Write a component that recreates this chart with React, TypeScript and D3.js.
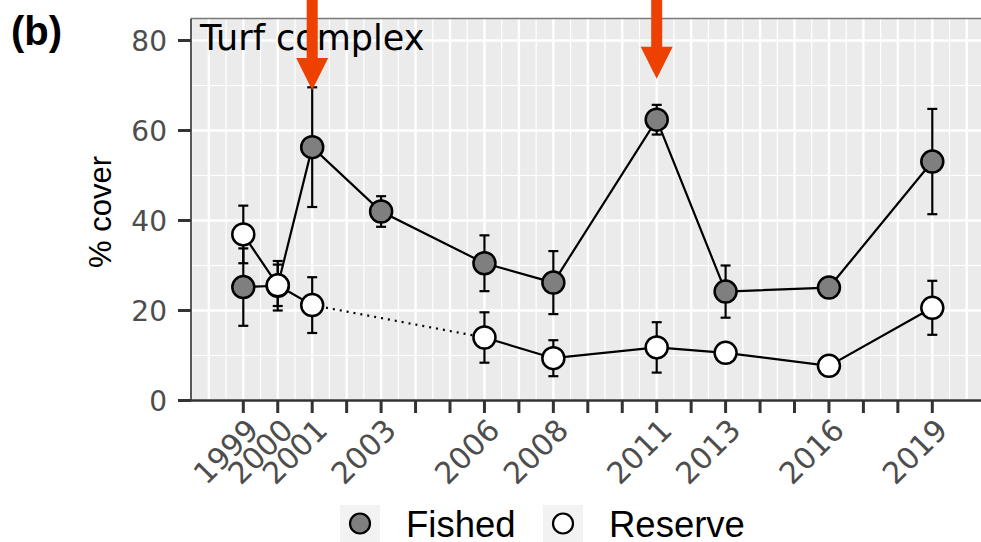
import React, { useEffect, useRef } from 'react';
import * as d3 from 'd3';

// survey years and % cover (mean +/- se)
const years = [1999, 2000, 2001, 2003, 2006, 2008, 2011, 2013, 2016, 2019];
const fishedMean = [25.2, 25.5, 56.3, 42.0, 30.5, 26.2, 62.4, 24.2, 25.1, 53.1];
const fishedSE = [8.6, 5.5, 13.3, 3.4, 6.2, 7.0, 3.3, 5.8, 2.0, 11.7];
const reserveMean = [36.9, 25.6, 21.2, null, 14.0, 9.4, 11.8, 10.6, 7.7, 20.6];
const reserveSE = [6.4, 4.6, 6.2, null, 5.6, 4.0, 5.6, 1.5, 1.0, 6.0];

const tickYears = d3.range(1999, 2020);
const yTicks = [0, 20, 40, 60, 80];
const arrowYears = [2001, 2011];
const arrowTips = [69, 71.5];
const seriesNames = ['Fished', 'Reserve'];
const seriesFill = ['#7f7f7f', '#ffffff'];

export default function App() {
  const ref = useRef<SVGSVGElement>(null);

  useEffect(() => {
    const svg = d3.select(ref.current);
    svg.selectAll('*').remove();

    const x = d3.scaleLinear().domain([1999, 2019]).range([243.3, 932.3]);
    const y = d3.scaleLinear().domain([0, 80]).range([400.5, 40.5]);
    const left = 191, right = 995, top = 18.5, bottom = 400.5;
    const tickFont = 'DejaVu Sans, Verdana, sans-serif';

    // panel
    svg.append('rect')
      .attr('x', left).attr('y', top)
      .attr('width', right - left).attr('height', bottom - top)
      .attr('fill', '#ebebeb');

    // grid
    svg.append('g').selectAll('line')
      .data(d3.range(0, 90, 10))
      .enter().append('line')
      .attr('x1', left).attr('x2', right)
      .attr('y1', d => y(d)).attr('y2', d => y(d))
      .attr('stroke', '#fff')
      .attr('stroke-width', d => d % 20 === 0 ? 2.4 : 1.2);

    const xLo = x.invert(left), xHi = x.invert(right);
    svg.append('g').selectAll('line')
      .data(d3.range(1997.5, 2021, 0.5).filter(d => d > xLo && d < xHi))
      .enter().append('line')
      .attr('x1', d => x(d)).attr('x2', d => x(d))
      .attr('y1', top).attr('y2', bottom)
      .attr('stroke', '#fff')
      .attr('stroke-width', d => d % 1 === 0 ? 2.4 : 1.2);

    // borders / axis lines
    svg.append('line').attr('x1', left).attr('x2', right).attr('y1', top).attr('y2', top)
      .attr('stroke', '#7a7a7a').attr('stroke-width', 1.5);
    svg.append('line').attr('x1', left).attr('x2', left).attr('y1', top).attr('y2', bottom)
      .attr('stroke', '#5a5a5a').attr('stroke-width', 2);
    svg.append('line').attr('x1', left - 1).attr('x2', right).attr('y1', bottom).attr('y2', bottom)
      .attr('stroke', '#333').attr('stroke-width', 2.5);

    // y axis
    const gy = svg.append('g');
    gy.selectAll('line').data(yTicks).enter().append('line')
      .attr('x1', 178).attr('x2', left)
      .attr('y1', d => y(d)).attr('y2', d => y(d))
      .attr('stroke', '#333').attr('stroke-width', 3);
    gy.selectAll('text').data(yTicks).enter().append('text')
      .attr('x', 167).attr('y', d => y(d) + 10)
      .attr('text-anchor', 'end')
      .style('font-family', tickFont).style('font-size', '28px')
      .attr('fill', '#4d4d4d')
      .text(d => d);

    svg.append('text')
      .attr('transform', 'translate(111,212) rotate(-90)')
      .attr('text-anchor', 'middle')
      .style('font-family', 'Liberation Sans, Arial, sans-serif').style('font-size', '31px')
      .attr('fill', '#000')
      .text('% cover');

    // x axis
    const gx = svg.append('g');
    gx.selectAll('line').data(tickYears).enter().append('line')
      .attr('x1', d => x(d)).attr('x2', d => x(d))
      .attr('y1', bottom).attr('y2', 413)
      .attr('stroke', '#333').attr('stroke-width', 3);
    gx.selectAll('text').data(years).enter().append('text')
      .attr('transform', d => 'translate(' + (x(d) + 17) + ',' + 432 + ') rotate(-45)')
      .attr('text-anchor', 'end')
      .style('font-family', tickFont).style('font-size', '30px')
      .attr('fill', '#4d4d4d')
      .text(d => d);

    // lines
    const pts = (means: (number | null)[]) =>
      years.map((yr, i) => ({ yr, v: means[i] }));
    const line = d3.line<{ yr: number; v: number | null }>()
      .defined(d => d.v != null)
      .x(d => x(d.yr)).y(d => y(d.v as number));

    const fished = pts(fishedMean);
    const reserve = pts(reserveMean);

    svg.append('path').datum(fished).attr('d', line)
      .attr('fill', 'none').attr('stroke', '#000').attr('stroke-width', 2.2);
    svg.append('path').datum(reserve).attr('d', line)
      .attr('fill', 'none').attr('stroke', '#000').attr('stroke-width', 2.2);

    // dotted bridge across missing survey
    const present = reserve.filter(d => d.v != null);
    const gaps = [];
    for (let i = 1; i < present.length; i++) {
      const a = years.indexOf(present[i - 1].yr), b = years.indexOf(present[i].yr);
      if (b - a > 1) gaps.push([present[i - 1], present[i]]);
    }
    svg.append('g').selectAll('path').data(gaps).enter().append('path')
      .attr('d', d => line(d))
      .attr('fill', 'none').attr('stroke', '#000').attr('stroke-width', 2.2)
      .attr('stroke-dasharray', '2,5');

    // error bars
    const series = [
      { mean: fishedMean, se: fishedSE },
      { mean: reserveMean, se: reserveSE },
    ];
    series.forEach(s => {
      const data = years.map((yr, i) => ({ yr, v: s.mean[i], e: s.se[i] }))
        .filter(d => d.v != null);
      const g = svg.append('g').attr('stroke', '#000').attr('stroke-width', 2.2);
      g.selectAll('.v').data(data).enter().append('line')
        .attr('x1', d => x(d.yr)).attr('x2', d => x(d.yr))
        .attr('y1', d => y(d.v - d.e)).attr('y2', d => y(d.v + d.e));
      g.selectAll('.hi').data(data).enter().append('line')
        .attr('x1', d => x(d.yr) - 5).attr('x2', d => x(d.yr) + 5)
        .attr('y1', d => y(d.v + d.e)).attr('y2', d => y(d.v + d.e));
      g.selectAll('.lo').data(data).enter().append('line')
        .attr('x1', d => x(d.yr) - 5).attr('x2', d => x(d.yr) + 5)
        .attr('y1', d => y(d.v - d.e)).attr('y2', d => y(d.v - d.e));
    });

    // points
    [fished, reserve].forEach((s, k) => {
      svg.append('g').selectAll('circle')
        .data(s.filter(d => d.v != null)).enter().append('circle')
        .attr('cx', d => x(d.yr)).attr('cy', d => y(d.v as number))
        .attr('r', 11)
        .attr('fill', seriesFill[k])
        .attr('stroke', '#000').attr('stroke-width', 2.5);
    });

    // title inside panel
    svg.append('text')
      .attr('x', 200).attr('y', 50)
      .style('font-family', 'DejaVu Sans, Verdana, sans-serif').style('font-size', '35px')
      .attr('fill', '#000')
      .text('Turf complex');

    // panel tag
    svg.append('text')
      .attr('x', 11).attr('y', 45)
      .style('font-family', 'Liberation Sans, Arial, sans-serif').style('font-size', '40px')
      .style('font-weight', 'bold')
      .attr('fill', '#000')
      .text('(b)');

    // arrows
    const ga = svg.append('g').attr('fill', '#ee4000');
    arrowYears.forEach((yr, i) => {
      const cx = x(yr), tip = y(arrowTips[i]);
      const headLen = 32, headW = 32, shaftW = 11;
      ga.append('rect')
        .attr('x', cx - shaftW / 2).attr('y', 0)
        .attr('width', shaftW).attr('height', tip - headLen + 1);
      ga.append('path')
        .attr('d', 'M' + (cx - headW / 2) + ',' + (tip - headLen) +
          'L' + (cx + headW / 2) + ',' + (tip - headLen) +
          'L' + cx + ',' + tip + 'Z');
    });

    // legend
    const legX = [340, 543];
    const gl = svg.append('g');
    seriesNames.forEach((name, i) => {
      gl.append('rect')
        .attr('x', legX[i]).attr('y', 505).attr('width', 40).attr('height', 37)
        .attr('fill', '#f2f2f2');
      gl.append('circle')
        .attr('cx', legX[i] + 20).attr('cy', 523.5).attr('r', 10)
        .attr('fill', seriesFill[i]).attr('stroke', '#000').attr('stroke-width', 2.2);
      gl.append('text')
        .attr('x', legX[i] + 66).attr('y', 537)
        .style('font-family', 'Liberation Sans, Arial, sans-serif').style('font-size', '36.5px')
        .attr('fill', '#000')
        .text(name);
    });
  }, []);

  return (
    <svg ref={ref} width={981} height={542}
      style={{ position: 'absolute', left: 0, top: 0, background: '#fff' }} />
  );
}
